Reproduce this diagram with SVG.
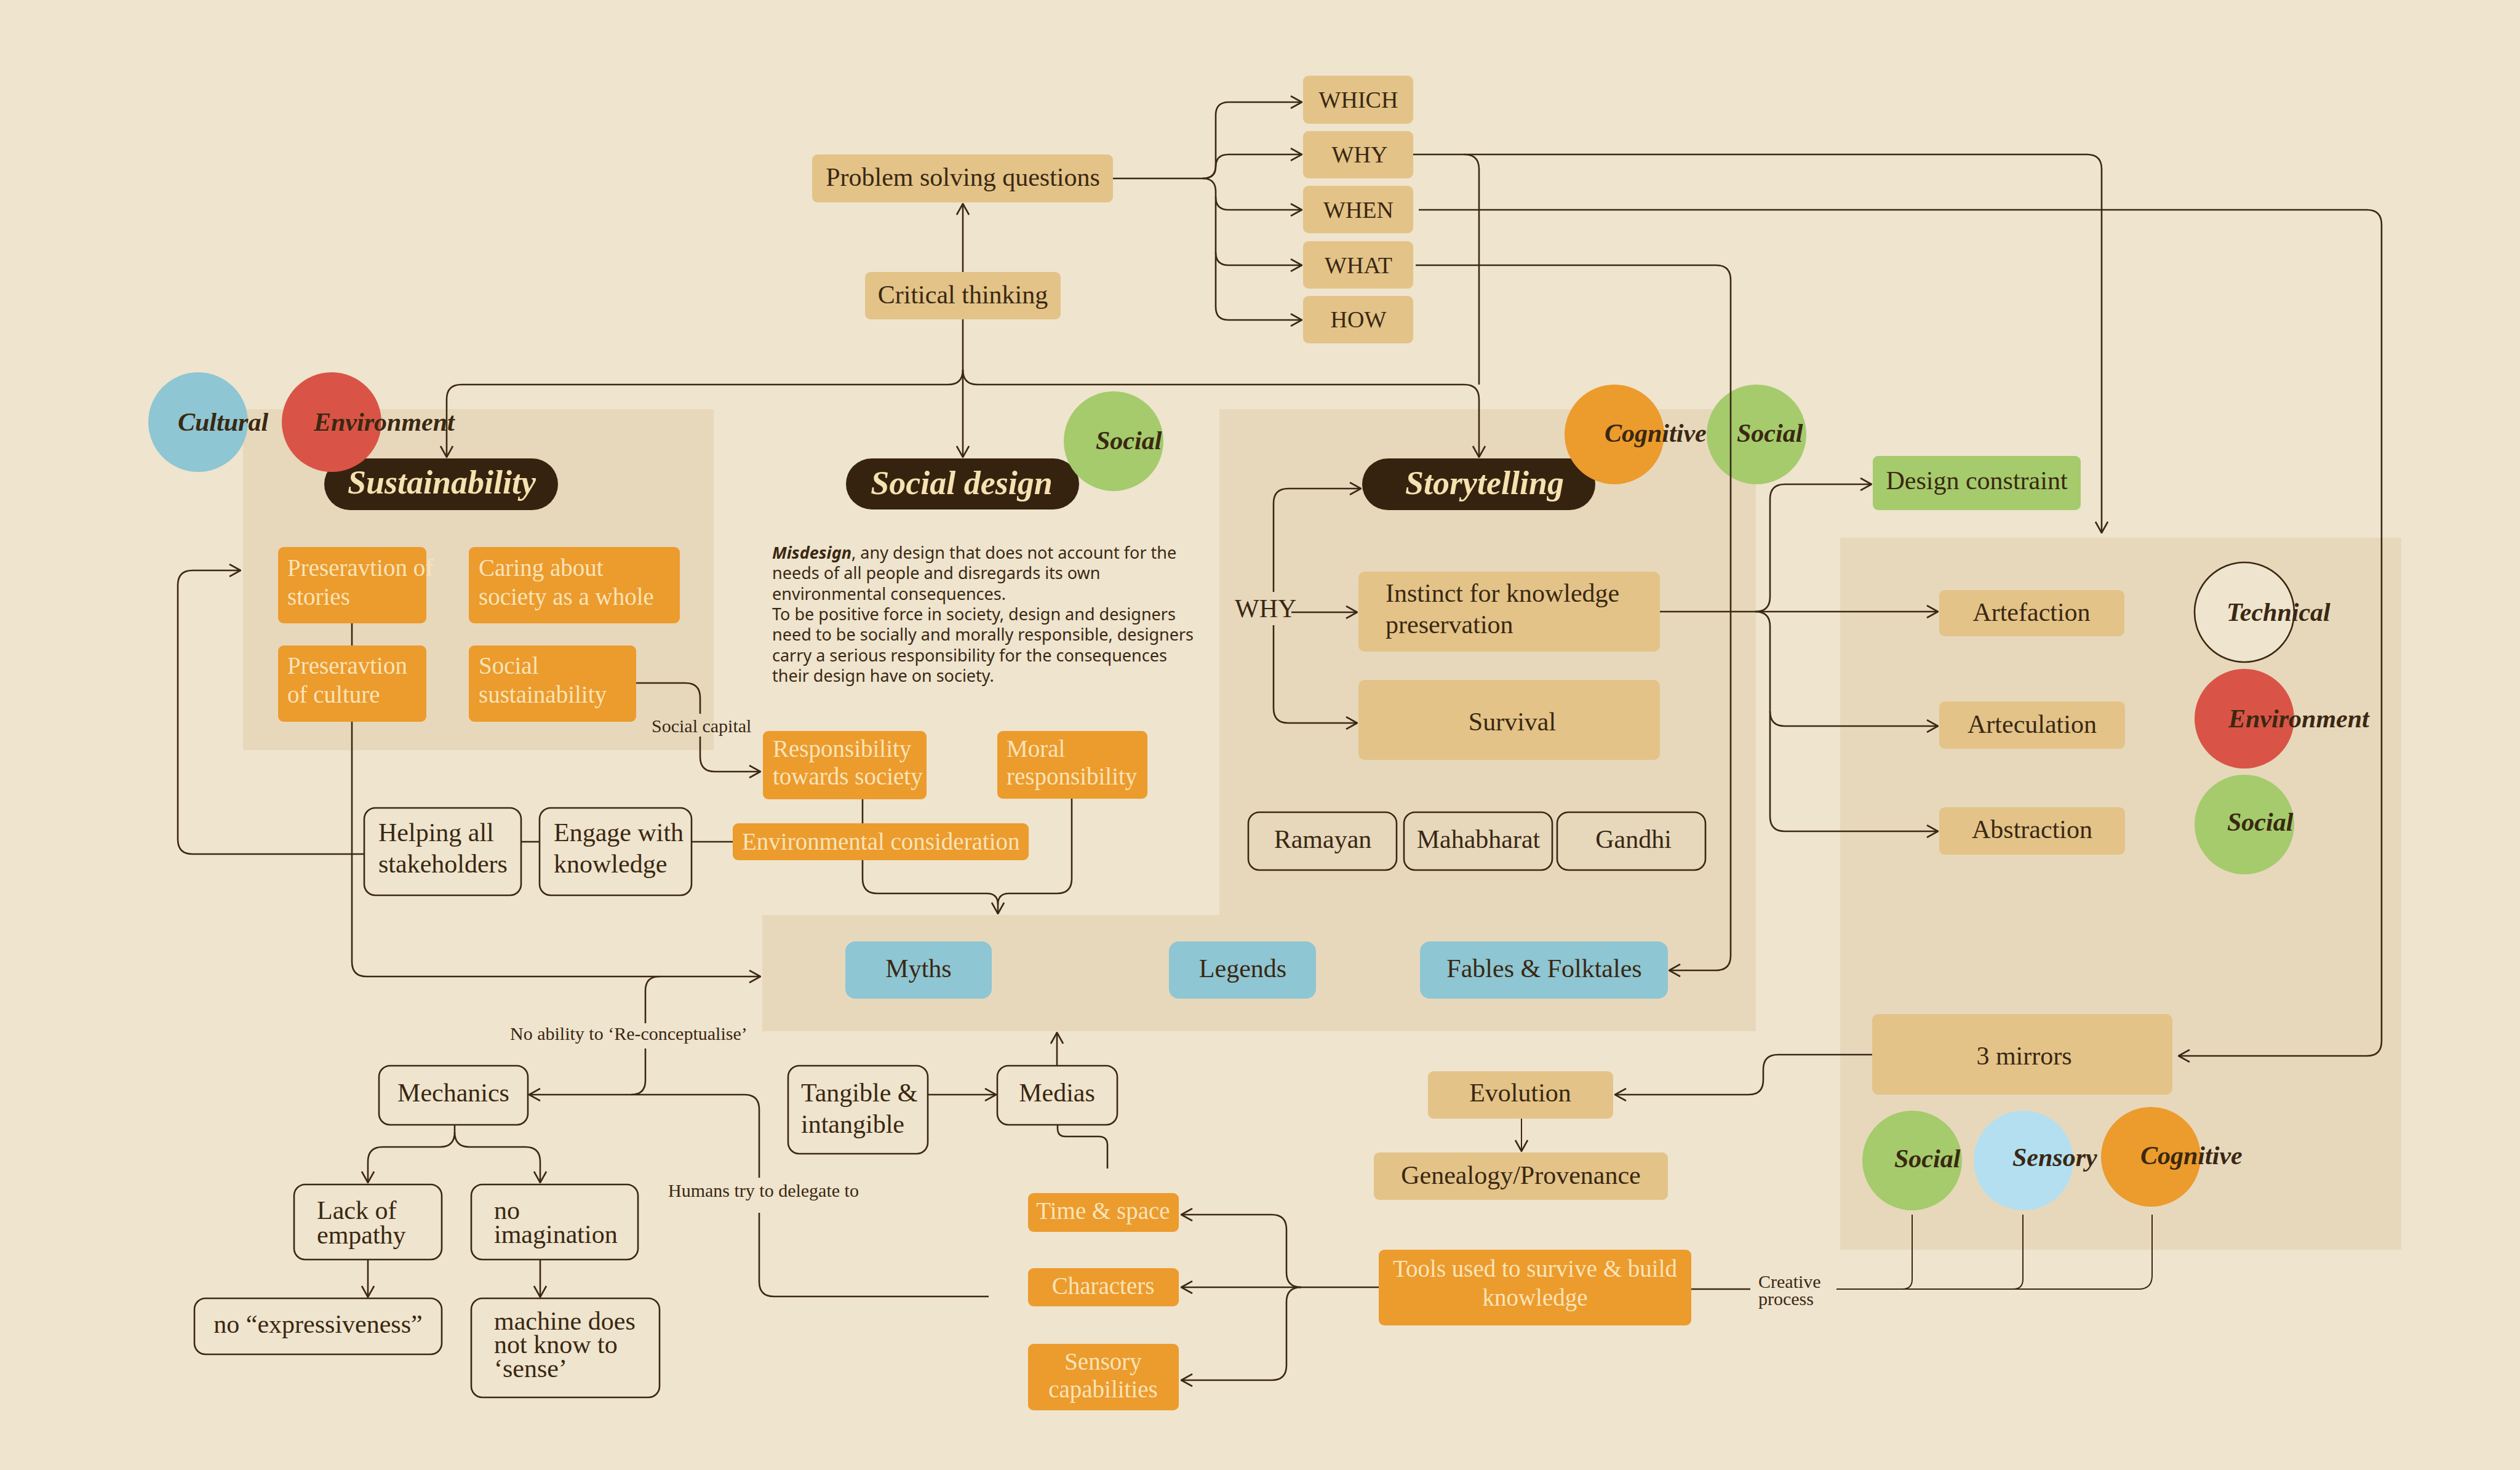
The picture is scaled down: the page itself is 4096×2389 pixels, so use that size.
<svg xmlns="http://www.w3.org/2000/svg" width="4096" height="2389" viewBox="0 0 4096 2389">
<style>
.panel{fill:#E7D8BC}
.tan{fill:#E3C388}
.org{fill:#EC9B2D}
.blu{fill:#8EC6D3}
.grn{fill:#A5CB6C}
.red{fill:#D95446}
.lbl2{fill:#B3DFF1}
.out{fill:none;stroke:#3B2814;stroke-width:2.6}
.pill{fill:#36230F}
.t{font-family:"Liberation Serif","DejaVu Serif",serif;font-size:42px;fill:#3A2812}
.q{font-size:38px}
.tc{font-family:"Liberation Serif","DejaVu Serif",serif;font-size:39px;fill:#F8E4B8}
.h{font-family:"Liberation Serif","DejaVu Serif",serif;font-size:54px;font-style:italic;font-weight:bold;fill:#F6E1B0}
.c{font-family:"Liberation Serif","DejaVu Serif",serif;font-size:42px;font-style:italic;font-weight:bold;fill:#3A2812}
.s{font-family:"Liberation Serif","DejaVu Serif",serif;font-size:30px;fill:#3A2812}
.p{font-family:"Noto Sans","DejaVu Sans",sans-serif;font-size:27px;fill:#3A2812}
.m{text-anchor:middle}
.ln{fill:none;stroke:#3B2814;stroke-width:2.6}
.ln2{fill:none;stroke:#3B2814;stroke-width:2}
</style>
<defs>
<marker id="ah" viewBox="0 0 20 22" refX="19" refY="11" markerWidth="20" markerHeight="22" markerUnits="userSpaceOnUse" orient="auto"><path d="M1,1 L19,11 L1,21" fill="none" stroke="#3B2814" stroke-width="2.6"/></marker>
</defs>
<rect width="4096" height="2389" fill="#EFE4CE"/>
<g id="panels">
<rect class="panel" x="395" y="665" width="765" height="554"/>
<rect class="panel" x="1982" y="665" width="872" height="1011"/>
<rect class="panel" x="1239" y="1487" width="1615" height="189"/>
<rect class="panel" x="2991" y="874" width="912" height="1157"/>
</g>

<g id="n-problem"><rect class="tan" x="1320" y="251" width="489" height="78" rx="9"/><text class="t m" x="1565" y="302">Problem solving questions</text></g>
<g id="n-critical"><rect class="tan" x="1406" y="442" width="318" height="77" rx="9"/><text class="t m" x="1565" y="493">Critical thinking</text></g>
<g id="n-which"><rect class="tan" x="2118" y="123" width="179" height="78" rx="9"/><text class="t q m" x="2208" y="175">WHICH</text></g>
<g id="n-why"><rect class="tan" x="2118" y="213" width="179" height="77" rx="9"/><text class="t q m" x="2210" y="264">WHY</text></g>
<g id="n-when"><rect class="tan" x="2118" y="302" width="179" height="77" rx="9"/><text class="t q m" x="2208" y="354">WHEN</text></g>
<g id="n-what"><rect class="tan" x="2118" y="392" width="179" height="77" rx="9"/><text class="t q m" x="2208" y="444">WHAT</text></g>
<g id="n-how"><rect class="tan" x="2118" y="481" width="179" height="77" rx="9"/><text class="t q m" x="2208" y="532">HOW</text></g>

<g id="n-sustainability"><rect class="pill" x="527" y="745" width="380" height="84" rx="42"/><text class="h m" x="718" y="802">Sustainability</text></g>
<g id="n-cultural"><circle class="blu" cx="322" cy="686" r="81"/><text class="c" x="289" y="700">Cultural</text></g>
<g id="n-environment1"><circle class="red" cx="539" cy="686" r="81"/><text class="c" x="510" y="700">Environment</text></g>

<g id="n-pres-stories"><rect class="org" x="452" y="889" width="241" height="124" rx="9"/><text class="tc" x="467" y="936">Preseravtion of</text><text class="tc" x="467" y="983">stories</text></g>
<g id="n-caring"><rect class="org" x="762" y="889" width="343" height="124" rx="9"/><text class="tc" x="778" y="936">Caring about</text><text class="tc" x="778" y="983">society as a whole</text></g>
<g id="n-pres-culture"><rect class="org" x="452" y="1049" width="241" height="124" rx="9"/><text class="tc" x="467" y="1095">Preseravtion</text><text class="tc" x="467" y="1142">of culture</text></g>
<g id="n-social-sust"><rect class="org" x="762" y="1049" width="272" height="124" rx="9"/><text class="tc" x="778" y="1095">Social</text><text class="tc" x="778" y="1142">sustainability</text></g>

<g id="n-social-design"><rect class="pill" x="1375" y="745" width="379" height="83" rx="42"/><text class="h m" x="1563" y="803">Social design</text></g>
<g id="n-social1"><circle class="grn" cx="1810" cy="717" r="81"/><text class="c" x="1781" y="730">Social</text></g>

<g id="n-misdesign">
<text class="p" x="1255" y="908"><tspan font-weight="bold" font-style="italic">Misdesign</tspan>, any design that does not account for the</text>
<text class="p" x="1255" y="941">needs of all people and disregards its own</text>
<text class="p" x="1255" y="975">environmental consequences.</text>
<text class="p" x="1255" y="1008">To be positive force in society, design and designers</text>
<text class="p" x="1255" y="1041">need to be socially and morally responsible, designers</text>
<text class="p" x="1255" y="1075">carry a serious responsibility for the consequences</text>
<text class="p" x="1255" y="1108">their design have on society.</text>
</g>

<g id="n-responsibility"><rect class="org" x="1240" y="1188" width="266" height="111" rx="9"/><text class="tc" x="1256" y="1230">Responsibility</text><text class="tc" x="1256" y="1275">towards society</text></g>
<g id="n-moral"><rect class="org" x="1621" y="1188" width="244" height="110" rx="9"/><text class="tc" x="1636" y="1230">Moral</text><text class="tc" x="1636" y="1275">responsibility</text></g>
<g id="n-env-consideration"><rect class="org" x="1191" y="1338" width="481" height="60" rx="9"/><text class="tc" x="1206" y="1381">Environmental consideration</text></g>
<g id="n-helping"><rect class="out" x="592" y="1313" width="255" height="142" rx="18"/><text class="t" x="615" y="1367">Helping all</text><text class="t" x="615" y="1418">stakeholders</text></g>
<g id="n-engage"><rect class="out" x="877" y="1313" width="247" height="142" rx="18"/><text class="t" x="900" y="1367">Engage with</text><text class="t" x="900" y="1418">knowledge</text></g>

<g id="n-storytelling"><rect class="pill" x="2214" y="745" width="379" height="84" rx="42"/><text class="h m" x="2413" y="803">Storytelling</text></g>
<g id="n-cognitive1"><circle class="org" cx="2624" cy="706" r="81"/><text class="c" x="2608" y="718">Cognitive</text></g>
<g id="n-social2"><circle class="grn" cx="2855" cy="706" r="81"/><text class="c" x="2823" y="718">Social</text></g>
<g id="n-why-label"><text class="t" font-size="34" x="2007" y="1003">WHY</text></g>
<g id="n-instinct"><rect class="tan" x="2208" y="929" width="490" height="130" rx="10"/><text class="t" x="2252" y="978">Instinct for knowledge</text><text class="t" x="2252" y="1029">preservation</text></g>
<g id="n-survival"><rect class="tan" x="2208" y="1105" width="490" height="130" rx="10"/><text class="t m" x="2458" y="1187">Survival</text></g>
<g id="n-ramayan"><rect class="out" x="2029" y="1320" width="241" height="94" rx="18"/><text class="t m" x="2150" y="1378">Ramayan</text></g>
<g id="n-mahabharat"><rect class="out" x="2282" y="1320" width="241" height="94" rx="18"/><text class="t m" x="2403" y="1378">Mahabharat</text></g>
<g id="n-gandhi"><rect class="out" x="2531" y="1320" width="241" height="94" rx="18"/><text class="t m" x="2655" y="1378">Gandhi</text></g>

<g id="n-myths"><rect class="blu" x="1374" y="1530" width="238" height="93" rx="16"/><text class="t m" x="1493" y="1588">Myths</text></g>
<g id="n-legends"><rect class="blu" x="1900" y="1530" width="239" height="93" rx="16"/><text class="t m" x="2020" y="1588">Legends</text></g>
<g id="n-fables"><rect class="blu" x="2308" y="1530" width="403" height="93" rx="16"/><text class="t m" x="2510" y="1588">Fables &amp; Folktales</text></g>

<g id="n-design-constraint"><rect class="grn" x="3044" y="741" width="338" height="88" rx="9"/><text class="t m" x="3213" y="795">Design constraint</text></g>
<g id="n-artefaction"><rect class="tan" x="3152" y="959" width="301" height="75" rx="9"/><text class="t m" x="3302" y="1009">Artefaction</text></g>
<g id="n-arteculation"><rect class="tan" x="3152" y="1140" width="302" height="77" rx="9"/><text class="t m" x="3303" y="1191">Arteculation</text></g>
<g id="n-abstraction"><rect class="tan" x="3152" y="1312" width="302" height="77" rx="9"/><text class="t m" x="3303" y="1362">Abstraction</text></g>
<g id="n-technical"><circle cx="3648" cy="995" r="81" fill="#EFE4CE" stroke="#3B2814" stroke-width="2.6"/><text class="c" x="3619" y="1009">Technical</text></g>
<g id="n-environment2"><circle class="red" cx="3648" cy="1168" r="81"/><text class="c" x="3622" y="1182">Environment</text></g>
<g id="n-social3"><circle class="grn" cx="3648" cy="1340" r="81"/><text class="c" x="3620" y="1350">Social</text></g>
<g id="n-mirrors"><rect class="tan" x="3043" y="1648" width="488" height="131" rx="10"/><text class="t m" x="3290" y="1730">3 mirrors</text></g>
<g id="n-social4"><circle class="grn" cx="3108" cy="1886" r="81"/><text class="c" x="3079" y="1897">Social</text></g>
<g id="n-sensory"><circle class="lbl2" cx="3289" cy="1886" r="81"/><text class="c" x="3271" y="1895">Sensory</text></g>
<g id="n-cognitive2"><circle class="org" cx="3496" cy="1880" r="81"/><text class="c" x="3479" y="1892">Cognitive</text></g>

<g id="n-evolution"><rect class="tan" x="2321" y="1741" width="301" height="77" rx="9"/><text class="t m" x="2471" y="1790">Evolution</text></g>
<g id="n-genealogy"><rect class="tan" x="2233" y="1873" width="478" height="77" rx="9"/><text class="t m" x="2472" y="1924">Genealogy/Provenance</text></g>
<g id="n-tools"><rect class="org" x="2241" y="2031" width="508" height="123" rx="9"/><text class="tc m" x="2495" y="2075">Tools used to survive &amp; build</text><text class="tc m" x="2495" y="2122">knowledge</text></g>
<g id="n-time"><rect class="org" x="1671" y="1939" width="245" height="63" rx="9"/><text class="tc m" x="1793" y="1981">Time &amp; space</text></g>
<g id="n-characters"><rect class="org" x="1671" y="2061" width="245" height="62" rx="9"/><text class="tc m" x="1793" y="2103">Characters</text></g>
<g id="n-sensory-cap"><rect class="org" x="1671" y="2184" width="245" height="108" rx="9"/><text class="tc m" x="1793" y="2226">Sensory</text><text class="tc m" x="1793" y="2271">capabilities</text></g>

<g id="n-mechanics"><rect class="out" x="616" y="1732" width="242" height="96" rx="18"/><text class="t m" x="737" y="1790">Mechanics</text></g>
<g id="n-tangible"><rect class="out" x="1281" y="1732" width="227" height="143" rx="18"/><text class="t" x="1302" y="1790">Tangible &amp;</text><text class="t" x="1302" y="1841">intangible</text></g>
<g id="n-medias"><rect class="out" x="1621" y="1732" width="195" height="96" rx="18"/><text class="t m" x="1718" y="1790">Medias</text></g>
<g id="n-lack"><rect class="out" x="478" y="1925" width="240" height="122" rx="18"/><text class="t" x="515" y="1981">Lack of</text><text class="t" x="515" y="2021">empathy</text></g>
<g id="n-noimag"><rect class="out" x="766" y="1925" width="271" height="122" rx="18"/><text class="t" x="803" y="1981">no</text><text class="t" x="803" y="2020">imagination</text></g>
<g id="n-noexpr"><rect class="out" x="316" y="2110" width="402" height="91" rx="18"/><text class="t m" x="517" y="2166">no “expressiveness”</text></g>
<g id="n-machine"><rect class="out" x="766" y="2110" width="306" height="161" rx="18"/><text class="t" x="803" y="2161">machine does</text><text class="t" x="803" y="2199">not know to</text><text class="t" x="803" y="2238">‘sense’</text></g>

<g id="labels">
<text class="s" x="1059" y="1190">Social capital</text>
<text class="s" x="829" y="1690">No ability to ‘Re-conceptualise’</text>
<text class="s" x="1086" y="1945">Humans try to delegate to</text>
<text class="s" font-size="29" x="2858" y="2093">Creative</text>
<text class="s" font-size="29" x="2858" y="2121">process</text>
</g>

<g id="connectors">
<path class="ln" d="M1565,442 V331" marker-end="url(#ah)"/>
<path class="ln" d="M1809,290 H1955"/>
<path class="ln" d="M1955,290 Q1976,290 1976,269 V187 Q1976,166 1997,166 H2116" marker-end="url(#ah)"/>
<path class="ln" d="M1955,290 Q1976,290 1976,271 Q1976,251 1997,251 H2116" marker-end="url(#ah)"/>
<path class="ln" d="M1955,290 Q1976,290 1976,311 V320 Q1976,341 1997,341 H2116" marker-end="url(#ah)"/>
<path class="ln" d="M1976,320 V410 Q1976,431 1997,431 H2116" marker-end="url(#ah)"/>
<path class="ln" d="M1976,410 V499 Q1976,520 1997,520 H2116" marker-end="url(#ah)"/>
<path class="ln" d="M1565,519 V743" marker-end="url(#ah)"/>
<path class="ln" d="M1565,601 Q1565,625 1541,625 H750 Q726,625 726,649 V743" marker-end="url(#ah)"/>
<path class="ln" d="M1565,601 Q1565,625 1589,625 H2380 Q2404,625 2404,649 V743" marker-end="url(#ah)"/>
<path class="ln" d="M2297,251 H3392 Q3416,251 3416,275 V866" marker-end="url(#ah)"/>
<path class="ln" d="M2380,251 Q2404,251 2404,275 V625"/>
<path class="ln" d="M2306,341 H3847 Q3871,341 3871,365 V1692 Q3871,1716 3847,1716 H3541" marker-end="url(#ah)"/>
<path class="ln" d="M2301,431 H2789 Q2813,431 2813,455 V1553 Q2813,1577 2789,1577 H2713" marker-end="url(#ah)"/>
<path class="ln" d="M2070,962 V818 Q2070,794 2094,794 H2212" marker-end="url(#ah)"/>
<path class="ln" d="M2099,995 H2206" marker-end="url(#ah)"/>
<path class="ln" d="M2070,1016 V1151 Q2070,1175 2094,1175 H2206" marker-end="url(#ah)"/>
<path class="ln" d="M2698,994 H3150" marker-end="url(#ah)"/>
<path class="ln" d="M2853,994 Q2877,994 2877,970 V811 Q2877,787 2901,787 H3042" marker-end="url(#ah)"/>
<path class="ln" d="M2853,994 Q2877,994 2877,1018 V1156 Q2877,1180 2901,1180 H3150" marker-end="url(#ah)"/>
<path class="ln" d="M2877,1156 V1327 Q2877,1351 2901,1351 H3150" marker-end="url(#ah)"/>
<path class="ln" d="M3043,1714 H2890 Q2866,1714 2866,1738 V1755 Q2866,1779 2842,1779 H2625" marker-end="url(#ah)"/>
<path class="ln2" d="M2473,1818 V1871" marker-end="url(#ah)"/>
<path class="ln" d="M2241,2092 H1920" marker-end="url(#ah)"/>
<path class="ln" d="M2115,2092 Q2091,2092 2091,2068 V1998 Q2091,1974 2067,1974 H1920" marker-end="url(#ah)"/>
<path class="ln" d="M2115,2092 Q2091,2092 2091,2116 V2219 Q2091,2243 2067,2243 H1920" marker-end="url(#ah)"/>
<path class="ln" d="M2749,2095 H2845"/>
<path class="ln2" d="M2985,2095 H3476 Q3498,2095 3498,2073 V1974"/>
<path class="ln2" d="M3092,2095 Q3108,2095 3108,2079 V1974"/>
<path class="ln2" d="M3272,2095 Q3288,2095 3288,2079 V1974"/>
<path class="ln" d="M1718,1732 V1678" marker-end="url(#ah)"/>
<path class="ln" d="M1719,1828 V1834 Q1719,1847 1732,1847 H1786 Q1800,1847 1800,1861 V1899"/>
<path class="ln" d="M1508,1779 H1619" marker-end="url(#ah)"/>
<path class="ln" d="M1607,2107 H1258 Q1234,2107 1234,2083 V1971"/>
<path class="ln" d="M1234,1914 V1803 Q1234,1779 1210,1779 H860" marker-end="url(#ah)"/>
<path class="ln" d="M1072,1587 Q1049,1587 1049,1610 V1663"/>
<path class="ln" d="M1049,1704 V1756 Q1049,1779 1026,1779"/>
<path class="ln" d="M572,1013 V1049"/>
<path class="ln" d="M572,1173 V1563 Q572,1587 596,1587 H1236" marker-end="url(#ah)"/>
<path class="ln" d="M592,1388 H313 Q289,1388 289,1364 V951 Q289,927 313,927 H391" marker-end="url(#ah)"/>
<path class="ln" d="M847,1368 H877"/>
<path class="ln" d="M1124,1368 H1191"/>
<path class="ln" d="M1034,1110 H1114 Q1138,1110 1138,1134 V1160"/>
<path class="ln" d="M1138,1197 V1230 Q1138,1254 1162,1254 H1236" marker-end="url(#ah)"/>
<path class="ln" d="M1402,1299 V1338"/>
<path class="ln" d="M1402,1398 V1428 Q1402,1452 1426,1452 H1604 Q1622,1452 1622,1470 V1485" marker-end="url(#ah)"/>
<path class="ln" d="M1742,1298 V1428 Q1742,1452 1718,1452 H1640 Q1622,1452 1622,1470"/>
<path class="ln" d="M739,1828 V1840 Q739,1864 715,1864 H622 Q598,1864 598,1888 V1922" marker-end="url(#ah)"/>
<path class="ln" d="M739,1840 Q739,1864 763,1864 H854 Q878,1864 878,1888 V1922" marker-end="url(#ah)"/>
<path class="ln" d="M598,2047 V2108" marker-end="url(#ah)"/>
<path class="ln" d="M878,2047 V2108" marker-end="url(#ah)"/>
</g>
</svg>
